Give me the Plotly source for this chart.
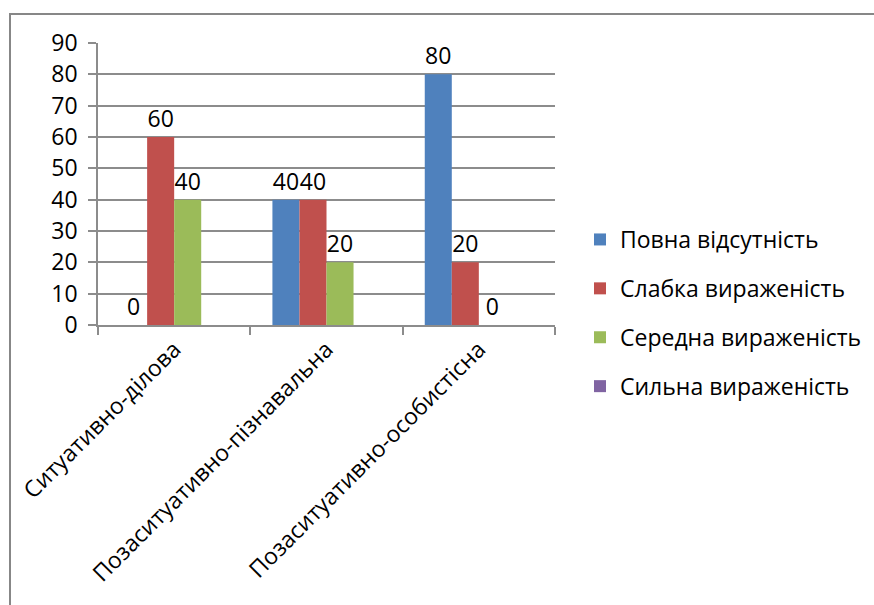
import plotly.graph_objects as go

categories = ["Ситуативно-ділова", "Позаситуативно-пізнавальна", "Позаситуативно-особистісна"]
series_names = ["Повна відсутність", "Слабка вираженість", "Середна вираженість", "Сильна вираженість"]
povna = [0, 40, 80]
slabka = [60, 40, 20]
seredna = [40, 20, 0]
sylna = [None, None, None]
y_ticks = [0, 10, 20, 30, 40, 50, 60, 70, 80, 90]

colors = ["#4F81BD", "#C0504D", "#9BBB59", "#8064A2"]
FONT = "Open Sans"
FS = 23

W, H = 874, 605
L, R, T, B = 98, 555, 43, 325

fig = go.Figure()
for i, (name, vals) in enumerate(zip(series_names, [povna, slabka, seredna, sylna])):
    fig.add_trace(go.Bar(
        x=categories, y=vals, name=name,
        marker=dict(color=colors[i], line=dict(width=0)),
        text=[("" if v is None else str(v)) for v in vals],
        textposition="outside", cliponaxis=False, constraintext="none",
        textfont=dict(family=FONT, size=FS, color="black"),
        legendgroup=f"g{i}",
    ))

def px_x(px):
    return (px - L) / (R - L)

def px_y(py):
    return (B - py) / (B - T)

fig.add_shape(type="rect", xref="paper", yref="paper",
              x0=px_x(10), x1=px_x(890), y0=px_y(14), y1=px_y(620),
              line=dict(color="#878787", width=2), fillcolor="rgba(0,0,0,0)", layer="below")

fig.update_layout(
    width=W, height=H,
    margin=dict(l=L, r=W - R, t=T, b=H - B, autoexpand=False),
    paper_bgcolor="white", plot_bgcolor="white",
    barmode="group", bargap=0.29, bargroupgap=0,
    font=dict(family=FONT, size=FS, color="black"),
    showlegend=True,
    legend=dict(x=px_x(580), xanchor="left", y=px_y(313), yanchor="middle",
                font=dict(family=FONT, size=FS, color="black"),
                traceorder="grouped", tracegroupgap=16, bgcolor="rgba(0,0,0,0)"),
)
fig.update_yaxes(range=[0, 90], tickvals=y_ticks, showgrid=True, gridcolor="#8c8c8c", gridwidth=1.5,
                 showline=True, linecolor="#8c8c8c", linewidth=1.5,
                 ticks="outside", ticklen=8, tickcolor="#8c8c8c", tickwidth=1.5,
                 ticklabelstandoff=6, zeroline=False,
                 tickfont=dict(family=FONT, size=FS, color="black"))
fig.update_xaxes(showline=True, linecolor="#8c8c8c", linewidth=1.5,
                 ticks="outside", ticklen=8, tickcolor="#8c8c8c", tickwidth=1.5,
                 tickson="boundaries", tickangle=-45,
                 tickfont=dict(family=FONT, size=FS, color="black"))

fig.write_html("out.html")
